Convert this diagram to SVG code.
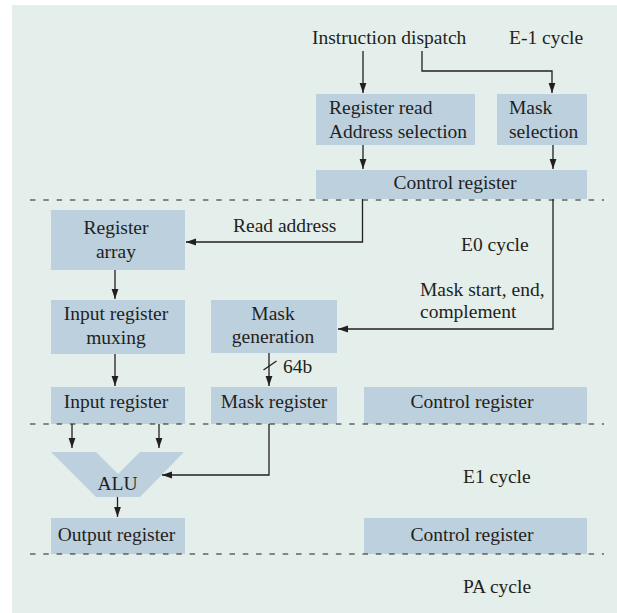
<svg xmlns="http://www.w3.org/2000/svg" width="617" height="613" viewBox="0 0 617 613">
  <defs>
    <style>
      .bg { fill: #e4eeea; }
      .box { fill: #bdd0de; }
      .t { font-family: "Liberation Serif", "Times New Roman", serif; font-size: 19.5px; fill: #231f20; }
      .c { text-anchor: middle; }
      .wire { fill: none; stroke: #231f20; stroke-width: 1.3; }
      .arr { marker-end: url(#ah); }
      .stage { stroke: #231f20; stroke-width: 1.2; stroke-dasharray: 5.5 7.8; fill: none; }
    </style>
    <marker id="ah" viewBox="0 0 10 10" refX="10" refY="5" markerWidth="10" markerHeight="10" markerUnits="userSpaceOnUse" orient="auto">
      <path d="M0,1.6 L10,5 L0,8.4 Z" fill="#231f20"/>
    </marker>
  </defs>

  <rect class="bg" x="12" y="5" width="605" height="608"/>

  <!-- E-1 cycle -->
  <g id="instruction-dispatch">
    <text class="t" x="312" y="44">Instruction dispatch</text>
  </g>
  <g id="label-e-1">
    <text class="t" x="509" y="44">E-1 cycle</text>
  </g>
  <g id="register-read">
    <rect class="box" x="316" y="94" width="159" height="51"/>
    <text class="t" x="329" y="114">Register read</text>
    <text class="t" x="329" y="138">Address selection</text>
  </g>
  <g id="mask-selection">
    <rect class="box" x="497" y="94" width="90" height="51"/>
    <text class="t" x="509" y="114">Mask</text>
    <text class="t" x="509" y="138">selection</text>
  </g>
  <g id="control-register-e-1">
    <rect class="box" x="316" y="170" width="271" height="29"/>
    <text class="t c" x="455" y="189">Control register</text>
  </g>

  <!-- E0 cycle -->
  <g id="label-e0">
    <text class="t" x="461" y="251">E0 cycle</text>
  </g>
  <g id="register-array">
    <rect class="box" x="51" y="210" width="134" height="60"/>
    <text class="t c" x="116" y="234">Register</text>
    <text class="t c" x="116" y="258">array</text>
  </g>
  <g id="input-register-muxing">
    <rect class="box" x="51" y="300" width="134" height="54"/>
    <text class="t c" x="116" y="320">Input register</text>
    <text class="t c" x="116" y="344">muxing</text>
  </g>
  <g id="mask-generation">
    <rect class="box" x="211" y="300" width="126" height="53"/>
    <text class="t c" x="273" y="320">Mask</text>
    <text class="t c" x="273" y="343">generation</text>
  </g>
  <g id="input-register">
    <rect class="box" x="51" y="387" width="134" height="37"/>
    <text class="t c" x="116" y="408">Input register</text>
  </g>
  <g id="mask-register">
    <rect class="box" x="211" y="387" width="126" height="37"/>
    <text class="t c" x="274" y="408">Mask register</text>
  </g>
  <g id="control-register-e0">
    <rect class="box" x="364" y="387" width="223" height="37"/>
    <text class="t c" x="472" y="408">Control register</text>
  </g>

  <!-- E1 cycle -->
  <g id="label-e1">
    <text class="t" x="463" y="483">E1 cycle</text>
  </g>
  <g id="alu">
    <polygon class="box" points="51,452 96,452 118,474 140,452 184,452 140,497 96,497"/>
    <text class="t c" x="117.5" y="490">ALU</text>
  </g>
  <g id="output-register">
    <rect class="box" x="51" y="518" width="134" height="36"/>
    <text class="t c" x="116.5" y="541">Output register</text>
  </g>
  <g id="control-register-e1">
    <rect class="box" x="364" y="518" width="223" height="36"/>
    <text class="t c" x="472" y="541">Control register</text>
  </g>

  <!-- PA cycle -->
  <g id="label-pa">
    <text class="t" x="463" y="593">PA cycle</text>
  </g>

  <!-- pipeline stage boundaries -->
  <g id="stage-boundaries">
    <line class="stage" x1="30" y1="200" x2="604" y2="200"/>
    <line class="stage" x1="30" y1="424" x2="604" y2="424"/>
    <line class="stage" x1="30" y1="554" x2="604" y2="554"/>
  </g>

  <g id="connectors">
    <path class="wire arr" d="M363,51 V93"/>
    <path class="wire arr" d="M422,51 V71 H552 V93"/>
    <path class="wire arr" d="M363,145 V169"/>
    <path class="wire arr" d="M553,145 V169"/>
    <!-- read address -->
    <path class="wire arr" d="M362.5,199 V242 H186"/>
    <text class="t" x="233" y="232">Read address</text>
    <!-- mask start / end / complement -->
    <path class="wire arr" d="M553,199 V329 H338"/>
    <text class="t" x="420" y="296">Mask start, end,</text>
    <text class="t" x="420" y="318">complement</text>
    <path class="wire arr" d="M115,270 V299"/>
    <path class="wire arr" d="M115,354 V386"/>
    <!-- 64-bit mask bus -->
    <path class="wire arr" d="M269,353 V386"/>
    <line class="wire" x1="263.5" y1="370" x2="276.5" y2="361"/>
    <text class="t" x="283" y="373">64b</text>
    <!-- ALU operands -->
    <path class="wire arr" d="M72,424 V448"/>
    <path class="wire arr" d="M159,424 V448"/>
    <path class="wire arr" d="M269,424 V475 H162"/>
    <path class="wire arr" d="M117.5,497 V517"/>
  </g>
</svg>
